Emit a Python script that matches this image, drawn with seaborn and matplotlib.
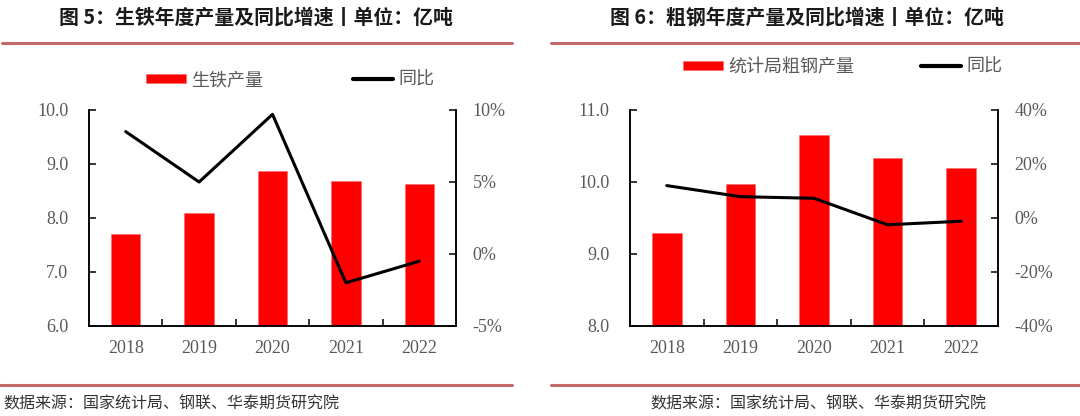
import numpy as np
import pandas as pd
import matplotlib
matplotlib.use("Agg")
import matplotlib.pyplot as plt
import seaborn as sns
from matplotlib.lines import Line2D
from matplotlib.ticker import FuncFormatter, FixedLocator, NullFormatter

# ---------------- data ----------------
years = ["2018", "2019", "2020", "2021", "2022"]
pig_iron = [7.71, 8.09, 8.87, 8.68, 8.63]          # 亿吨
pig_iron_yoy = [8.5, 5.0, 9.7, -2.0, -0.5]         # %
crude_steel = [9.29, 9.97, 10.65, 10.33, 10.19]    # 亿吨
crude_steel_yoy = [12.0, 7.9, 7.3, -2.5, -1.2]     # %

left_ticks = [6.0, 7.0, 8.0, 9.0, 10.0]
left_pct_ticks = [-5, 0, 5, 10]
right_ticks = [8.0, 9.0, 10.0, 11.0]
right_pct_ticks = [-40, -20, 0, 20, 40]

titles = ["图 5：生铁年度产量及同比增速丨单位：亿吨", "图 6：粗钢年度产量及同比增速丨单位：亿吨"]
bar_labels = ["生铁产量", "统计局粗钢产量"]
line_label = "同比"
source = "数据来源：国家统计局、钢联、华泰期货研究院"

sns.set_theme(style="white")
plt.rcParams["font.family"] = ["Liberation Serif", "Noto Sans CJK SC", "DejaVu Sans"]
CJK = ["Noto Sans CJK SC", "DejaVu Sans"]
GRAY = "#595959"

fig = plt.figure(figsize=(10.8, 4.16), dpi=100)

def draw(ax_rect, bars, yoy, yticks, pticks, blabel, leg_xy, colsp):
    ax = fig.add_axes(ax_rect)
    df = pd.DataFrame({"year": years, "val": bars})
    sns.barplot(data=df, x="year", y="val", ax=ax, color="#FF0000",
                saturation=1, width=0.4, label=blabel, edgecolor="#FF6666", linewidth=0.4)
    ax.set_ylim(yticks[0], yticks[-1])
    ax.set_yticks(yticks)
    ax.yaxis.set_major_formatter(FuncFormatter(lambda v, p: f"{v:.1f}"))
    ax.set_xlim(-0.5, 4.5)
    ax.set_xlabel("")
    ax.set_ylabel("")
    ax2 = ax.twinx()
    sns.lineplot(x=np.arange(len(years)), y=yoy, ax=ax2, color="black",
                 linewidth=2.2, label=line_label)
    ax2.set_ylim(pticks[0], pticks[-1])
    ax2.set_yticks(pticks)
    ax2.yaxis.set_major_formatter(FuncFormatter(lambda v, p: f"{int(v)}%"))
    ax2.set_xlim(-0.5, 4.5)

    for a in (ax, ax2):
        for s in a.spines.values():
            s.set_linewidth(1.1)
            s.set_color("black")
        a.spines["top"].set_visible(False)
    ax.tick_params(axis="y", direction="in", length=5, width=1.1, color="black",
                   labelsize=13, labelcolor=GRAY, pad=15, left=True)
    ax2.tick_params(axis="y", direction="in", length=5, width=1.1, color="black",
                    labelsize=13, labelcolor=GRAY, pad=12, right=True)
    ax.xaxis.set_minor_locator(FixedLocator([0.5, 1.5, 2.5, 3.5]))
    ax.xaxis.set_minor_formatter(NullFormatter())
    ax.tick_params(axis="x", which="major", length=0, labelsize=13, labelcolor=GRAY, pad=10)
    ax.tick_params(axis="x", which="minor", direction="in", length=5, width=1.1,
                   color="black", bottom=True)
    ax.grid(False); ax2.grid(False)

    h1, l1 = ax.get_legend_handles_labels()
    h2, l2 = ax2.get_legend_handles_labels()
    if ax.get_legend(): ax.get_legend().remove()
    if ax2.get_legend(): ax2.get_legend().remove()
    h2 = [Line2D([], [], color="black", linewidth=3)]
    fig.legend(h1 + h2, l1 + l2, loc="center left", bbox_to_anchor=leg_xy,
               ncol=2, frameon=False, borderpad=0, borderaxespad=0,
               handlelength=2.2, handleheight=0.45, handletextpad=0.3,
               columnspacing=colsp, prop={"family": CJK, "size": 13},
               labelcolor=GRAY)
    return ax

draw([89/1080, 1-326/416, 367/1080, 216/416], pig_iron, pig_iron_yoy,
     left_ticks, left_pct_ticks, bar_labels[0], (146/1080, 1-80/416), 5.0)
draw([630/1080, 1-326/416, 368/1080, 216/416], crude_steel, crude_steel_yoy,
     right_ticks, right_pct_ticks, bar_labels[1], (683/1080, 1-67/416), 3.7)

# titles
fig.text(256/1080, 1-17/416, titles[0], ha="center", va="center", fontsize=14.3,
         fontweight="bold", family=CJK, color="#1a1a1a")
fig.text(807/1080, 1-17/416, titles[1], ha="center", va="center", fontsize=14.3,
         fontweight="bold", family=CJK, color="#1a1a1a")

# decorative lines
RED = "#C46A6A"
for x0, x1 in [(2/1080, 512/1080), (551/1080, 1.0)]:
    fig.add_artist(Line2D([x0, x1], [1-42.5/416]*2, transform=fig.transFigure,
                          color=RED, linewidth=2.2))
for x0, x1 in [(0.0, 512/1080), (551/1080, 1.0)]:
    fig.add_artist(Line2D([x0, x1], [1-385/416]*2, transform=fig.transFigure,
                          color=RED, linewidth=2.2))

# sources
fig.text(3/1080, 1-404/416, source, ha="left", va="center", fontsize=11.5,
         family=CJK, color="#333333")
fig.text(650/1080, 1-404/416, source, ha="left", va="center", fontsize=11.5,
         family=CJK, color="#333333")

fig.savefig("out.png", dpi=100)
